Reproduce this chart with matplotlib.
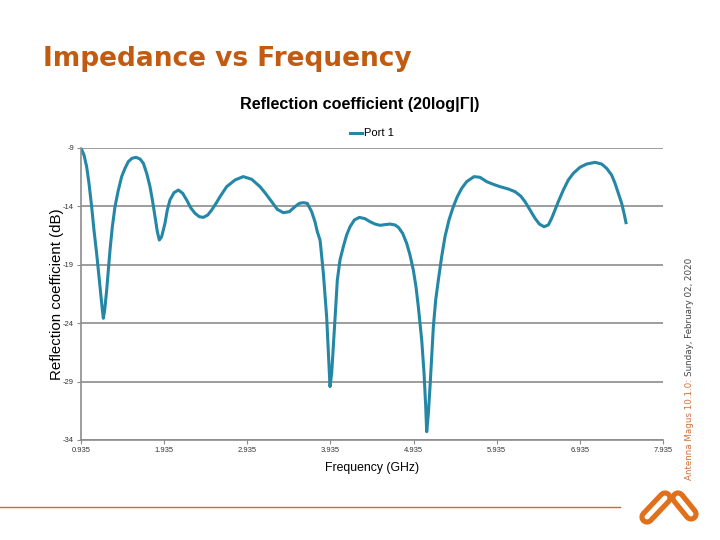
import numpy as np
import matplotlib
matplotlib.use("Agg")
import matplotlib.pyplot as plt

# data
freq_ghz = [0.935, 0.971, 1.003, 1.031, 1.063, 1.091, 1.123, 1.151, 1.172, 1.192,
            1.204, 1.220, 1.244, 1.264, 1.284, 1.312, 1.344, 1.384, 1.424, 1.464,
            1.504, 1.548, 1.597, 1.645, 1.685, 1.725, 1.765, 1.797, 1.825, 1.853,
            1.877, 1.905, 1.945, 1.973, 2.005, 2.054, 2.106, 2.158, 2.206, 2.254,
            2.306, 2.358, 2.406, 2.459, 2.507, 2.559, 2.607, 2.687, 2.787, 2.887,
            2.988, 3.088, 3.160, 3.228, 3.296, 3.369, 3.441, 3.509, 3.561, 3.609,
            3.657, 3.709, 3.749, 3.777, 3.810, 3.818, 3.850, 3.890, 3.918, 3.930,
            3.950, 3.970, 3.994, 4.018, 4.050, 4.090, 4.130, 4.171, 4.223, 4.283,
            4.351, 4.411, 4.471, 4.531, 4.591, 4.652, 4.712, 4.752, 4.804, 4.852,
            4.892, 4.932, 4.964, 4.992, 5.033, 5.061, 5.080, 5.093, 5.113, 5.133,
            5.153, 5.173, 5.201, 5.233, 5.273, 5.313, 5.361, 5.413, 5.461, 5.514,
            5.574, 5.662, 5.734, 5.814, 5.894, 5.975, 6.075, 6.155, 6.223, 6.275,
            6.336, 6.396, 6.448, 6.504, 6.556, 6.596, 6.636, 6.676, 6.736, 6.796,
            6.856, 6.937, 7.017, 7.117, 7.197, 7.257, 7.317, 7.358, 7.398, 7.438,
            7.466, 7.490]
refl_db = [-9.00, -9.60, -10.60, -12.02, -14.02, -16.02, -18.02, -20.02, -21.44, -22.87,
           -23.58, -22.87, -21.16, -19.45, -17.73, -15.74, -14.02, -12.60, -11.45, -10.74,
           -10.17, -9.88, -9.80, -9.94, -10.31, -11.17, -12.31, -13.59, -14.88, -16.16,
           -16.88, -16.59, -15.45, -14.31, -13.45, -12.82, -12.60, -12.88, -13.45, -14.11,
           -14.59, -14.88, -14.94, -14.74, -14.31, -13.74, -13.17, -12.31, -11.74, -11.45,
           -11.68, -12.31, -12.94, -13.59, -14.25, -14.54, -14.45, -14.02, -13.74, -13.68,
           -13.74, -14.45, -15.31, -16.16, -16.88, -17.40, -19.73, -23.50, -27.60, -29.43,
           -28.29, -26.01, -23.16, -20.30, -18.59, -17.45, -16.45, -15.74, -15.16, -14.94,
           -15.05, -15.31, -15.51, -15.62, -15.56, -15.51, -15.59, -15.79, -16.31, -17.16,
           -18.16, -19.45, -20.87, -22.58, -25.44, -28.30, -31.00, -33.29, -31.72, -29.43,
           -26.87, -24.30, -22.01, -20.30, -18.30, -16.59, -15.16, -14.02, -13.17, -12.45,
           -11.88, -11.45, -11.51, -11.88, -12.11, -12.31, -12.51, -12.74, -13.11, -13.59,
           -14.31, -15.02, -15.51, -15.74, -15.59, -15.02, -14.31, -13.59, -12.60, -11.74,
           -11.17, -10.65, -10.37, -10.23, -10.37, -10.74, -11.31, -12.02, -12.88, -13.74,
           -14.59, -15.39]
x_ticks = [0.935, 1.935, 2.935, 3.935, 4.935, 5.935, 6.935, 7.935]
y_ticks = [-34, -29, -24, -19, -14, -9]

orange = '#c25b12'
teal = '#2487a6'
gray = '#8c8c8c'

plt.rcParams['font.family'] = ['Liberation Sans', 'DejaVu Sans']

fig = plt.figure(figsize=(7.2, 5.4), dpi=100)
ax = fig.add_axes([81/720, 1 - 440/540, 582/720, 292/540])

ax.plot(freq_ghz, refl_db, color=teal, lw=2.2, solid_joinstyle='round', label='Port 1')
ax.set_xlim(0.935, 7.935)
ax.set_ylim(-34, -9)
ax.set_xticks(x_ticks)
ax.set_xticklabels([f"{t:.3f}" for t in x_ticks])
ax.set_yticks(y_ticks)
ax.set_yticklabels([f"-{abs(t)}" for t in y_ticks])
ax.tick_params(labelsize=5.5, colors='#333333', length=3, color=gray, pad=2)
ax.yaxis.grid(True, color=gray, lw=1.2)
ax.set_axisbelow(True)
for s in ['top', 'right']:
    ax.spines[s].set_visible(False)
for s in ['left', 'bottom']:
    ax.spines[s].set_color(gray)
    ax.spines[s].set_linewidth(1.2)

ax.set_xlabel('Frequency (GHz)', fontsize=8.8, labelpad=5.5)
ax.set_ylabel('Reflection coefficient (dB)', fontsize=10.8, labelpad=-1)
ax.legend(loc='lower center', bbox_to_anchor=(0.5, 1.01), frameon=False,
          fontsize=8, handlelength=1.0, handletextpad=0.2, borderaxespad=0.2)

fig.text(360/720, 1 - 104/540, 'Reflection coefficient (20log|Γ|)', ha='center', va='center',
         fontsize=11.6, fontweight='bold')
fig.text(43/720, 1 - 59/540, 'Impedance vs Frequency', ha='left', va='center',
         fontsize=19, fontweight='bold', color=orange, family='DejaVu Sans')

stamp = fig.text(690/720, 1 - 480/540, 'Antenna Magus 10.1.0: ', rotation=90, ha='center',
                 va='bottom', fontsize=6.3, color='#d0703a', family='DejaVu Sans')
fig.canvas.draw()
top_px = stamp.get_window_extent().y1
fig.text(690/720, top_px / 540, 'Sunday, February 02, 2020', rotation=90, ha='center',
         va='bottom', fontsize=6.3, color='#444444', family='DejaVu Sans')

# footer rule
fig.add_artist(plt.Line2D([0, 620/720], [1 - 507/540] * 2, color='#d06a2a', lw=1,
                          transform=fig.transFigure))

# logo: two linked capsules
for (x0, y0, x1, y1) in [(647, 517, 665, 498), (678, 498, 691, 514)]:
    xs = [x0/720, x1/720]
    ys = [1 - y0/540, 1 - y1/540]
    fig.add_artist(plt.Line2D(xs, ys, color='#e0701c', lw=11, solid_capstyle='round',
                              transform=fig.transFigure))
    fig.add_artist(plt.Line2D(xs, ys, color='white', lw=3.5, solid_capstyle='round',
                              transform=fig.transFigure))

fig.savefig('out.png', dpi=100)
